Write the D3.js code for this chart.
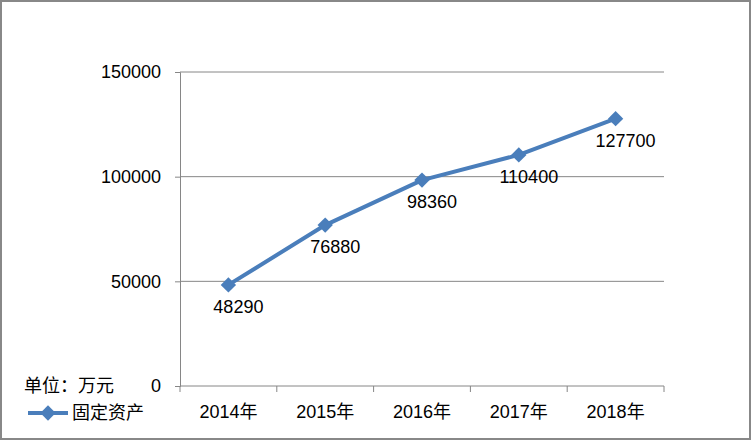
<!DOCTYPE html>
<html><head><meta charset="utf-8">
<script src="https://cdn.jsdelivr.net/npm/d3@7"></script>
<style>body{margin:0;background:#fff}</style>
</head><body><div id="chart"></div>
<script>
const years = ["2014年", "2015年", "2016年", "2017年", "2018年"];
const values = [48290, 76880, 98360, 110400, 127700];
const yTicks = [0, 50000, 100000, 150000];

const W = 752, H = 441;
const margin = { top: 72, right: 88, bottom: 55, left: 180 },
  width = W - margin.left - margin.right,
  height = H - margin.top - margin.bottom;
const font = "'Liberation Sans','Noto Sans CJK SC',sans-serif";

const root = d3.select("#chart").append("svg").attr("width", W).attr("height", H)
  .style("font-family", font);
root.append("rect").attr("x", 1).attr("y", 1).attr("width", W - 3).attr("height", H - 3)
  .attr("fill", "#fff").attr("stroke", "#888").attr("stroke-width", 2);

const svg = root.append("g").attr("transform", `translate(${margin.left},${margin.top})`);

const x = d3.scaleBand().domain(years).range([0, width]);
const y = d3.scaleLinear().domain([0, 150000]).range([height, 0]);

// grid
svg.selectAll(".grid").data(yTicks).join("line")
  .attr("x1", 0).attr("x2", width)
  .attr("y1", d => y(d)).attr("y2", d => y(d))
  .attr("stroke", "#868686").attr("stroke-width", 1);

const yAxis = svg.append("g").call(d3.axisLeft(y).tickValues(yTicks).tickSize(5).tickPadding(14).tickFormat(d3.format("d")));
yAxis.select(".domain").attr("stroke", "#868686");
yAxis.selectAll("line").attr("stroke", "#868686");
yAxis.selectAll("text").attr("font-size", 18).attr("font-family", font).attr("fill", "#000");

const xAxis = svg.append("g").attr("transform", `translate(0,${height})`)
  .call(d3.axisBottom(x).tickSize(0).tickPadding(19));
xAxis.select(".domain").remove();
xAxis.selectAll("text").attr("font-size", 18).attr("font-family", font).attr("fill", "#000");
// tick marks at band boundaries
svg.selectAll(".xt").data(d3.range(years.length + 1)).join("line")
  .attr("x1", i => i * x.step()).attr("x2", i => i * x.step())
  .attr("y1", height).attr("y2", height + 6).attr("stroke", "#868686");

const cx = d => x(d) + x.bandwidth() / 2;
const line = d3.line().x((d, i) => cx(years[i])).y(d => y(d));
svg.append("path").datum(values).attr("d", line).attr("fill", "none")
  .attr("stroke", "#4a7ebb").attr("stroke-width", 4).attr("stroke-linejoin", "round");

const diamond = d3.symbol().type(d3.symbolDiamond2).size(150);
svg.selectAll(".pt").data(values).join("path")
  .attr("d", diamond)
  .attr("transform", (d, i) => `translate(${cx(years[i])},${y(d)})`)
  .attr("fill", "#4a7ebb");

svg.selectAll(".lbl").data(values).join("text")
  .attr("x", (d, i) => cx(years[i]) + 10).attr("y", d => y(d) + 28)
  .attr("text-anchor", "middle").attr("font-size", 18).attr("fill", "#000")
  .text(d => d);

// unit & legend
root.append("text").attr("x", 24).attr("y", 392).attr("font-size", 18).text("单位：万元");
root.append("line").attr("x1", 28).attr("x2", 68).attr("y1", 413).attr("y2", 413)
  .attr("stroke", "#4a7ebb").attr("stroke-width", 4);
root.append("path").attr("d", diamond).attr("transform", "translate(48,413)").attr("fill", "#4a7ebb");
root.append("text").attr("x", 72).attr("y", 419).attr("font-size", 18).text("固定资产");
</script></body></html>
